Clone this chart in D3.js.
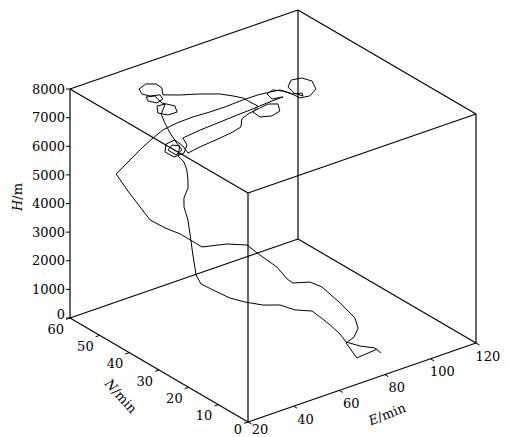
<!DOCTYPE html>
<html>
<head>
<meta charset="utf-8">
<script src="https://cdn.jsdelivr.net/npm/d3@7/dist/d3.min.js"></script>
<style>
  body { margin: 0; background: #fff; }
  text { font-family: "DejaVu Serif", "Liberation Serif", serif; fill: #000; }
</style>
</head>
<body>
<div id="chart"></div>
<script>
// flight track (E/min, N/min, H/m)
var flightE = [
  90.0, 78.8, 80.2, 83.8, 87.8, 89.0, 89.3, 87.8, 85.5, 79.0,
  77.9, 76.7, 72.3, 69.4, 61.7, 50.7, 48.1, 45.4, 41.4, 37.0,
  36.0, 34.0, 33.1, 35.6, 39.6, 43.8, 48.1, 51.9, 56.4, 60.9,
  65.2, 70.4, 75.9, 81.1, 84.4, 88.1, 89.5, 89.9, 93.6, 98.5,
  101.2, 99.8, 95.9, 91.8, 90.6, 91.6, 92.8, 89.6, 88.5, 86.2,
  82.7, 81.7, 85.7, 80.8, 76.1, 70.5, 64.5, 56.5, 47.3, 38.8,
  36.6, 32.0, 27.4, 27.3, 31.3, 35.7, 35.0, 33.1, 39.3, 49.0,
  55.4, 60.0, 64.0, 68.0, 74.1, 78.2, 81.0, 78.2, 73.7, 69.9,
  70.3, 74.5, 74.2, 74.2, 72.4, 69.7, 64.2, 58.3, 53.6, 53.9,
  52.8, 50.0, 45.7, 44.2, 45.5, 50.1, 50.3, 46.8, 45.3, 46.6,
  49.5, 49.5, 51.7, 49.4, 45.5, 43.7, 46.7, 49.9, 44.1, 40.9,
  37.6, 35.0, 32.9, 28.9, 29.0, 32.5, 34.2, 31.7, 34.5, 35.6,
  36.6, 36.9, 36.4, 36.3, 36.6, 36.9, 36.3, 37.2, 38.4, 42.9,
  47.8, 52.8, 59.0, 66.4, 70.9, 77.8, 79.2, 80.9, 82.1, 82.0,
  85.3, 89.8, 89.1
];
var flightN = [
  10.2, 8.5, 13.2, 13.3, 15.0, 17.0, 22.2, 27.2, 29.4, 30.2,
  31.3, 33.8, 36.2, 38.3, 39.1, 39.1, 40.4, 42.4, 44.4, 46.1,
  49.7, 51.5, 54.5, 54.1, 54.2, 53.7, 53.6, 53.2, 51.9, 50.0,
  47.6, 46.5, 44.7, 43.6, 42.1, 41.6, 39.2, 36.2, 35.7, 37.4,
  40.8, 43.2, 43.8, 41.7, 38.7, 36.5, 37.7, 38.6, 40.8, 42.5,
  41.8, 39.3, 38.7, 38.6, 38.4, 38.1, 37.9, 37.5, 37.1, 36.4,
  33.3, 30.8, 30.6, 33.6, 36.3, 36.7, 33.5, 30.3, 31.0, 31.7,
  32.3, 33.1, 35.9, 36.9, 37.6, 38.0, 36.8, 34.0, 33.2, 34.3,
  37.0, 38.5, 41.0, 43.3, 45.3, 47.7, 50.2, 52.3, 54.5, 55.1,
  56.2, 57.5, 56.5, 54.3, 52.6, 52.8, 52.0, 51.3, 53.1, 54.8,
  54.1, 51.7, 49.0, 46.5, 46.6, 48.6, 51.2, 50.9, 47.8, 44.1,
  39.8, 35.8, 32.2, 31.1, 33.9, 35.2, 33.9, 32.6, 32.7, 32.6,
  33.0, 33.2, 34.2, 34.1, 33.0, 32.5, 31.1, 30.7, 30.0, 29.4,
  27.5, 26.2, 24.9, 24.9, 23.3, 22.8, 21.2, 19.1, 16.7, 14.6,
  12.4, 10.9, 8.3
];
var flightH = [
  0, 100, 300, 400, 500, 700, 900, 1200, 1300, 1400,
  1500, 1800, 2200, 2500, 2700, 2900, 3100, 3300, 3500, 3800,
  4200, 4600, 5000, 5200, 5400, 5700, 5900, 6100, 6300, 6500,
  6700, 6800, 7000, 7100, 7200, 7200, 7200, 7200, 7200, 7200,
  7200, 7200, 7200, 7200, 7200, 7200, 7200, 7200, 7200, 7200,
  7200, 7200, 7200, 7200, 7200, 7200, 7200, 7200, 7200, 7200,
  7200, 7200, 7200, 7200, 7200, 7200, 7200, 7200, 7200, 7200,
  7200, 7200, 7200, 7200, 7200, 7200, 7200, 7200, 7200, 7200,
  7200, 7200, 7200, 7200, 7200, 7200, 7200, 7200, 7200, 7400,
  7500, 7500, 7500, 7500, 7500, 7400, 7300, 7300, 7300, 7300,
  7300, 7200, 7200, 7200, 7200, 7200, 7200, 7200, 7200, 7200,
  7200, 7200, 7200, 7200, 7200, 7200, 7200, 7000, 6700, 6400,
  6000, 5700, 5300, 5000, 4600, 4100, 3500, 2800, 2500, 2200,
  1900, 1700, 1500, 1300, 1100, 900, 750, 550, 350, 200,
  100, 0, 0
];

var eTicks = [20, 40, 60, 80, 100, 120];
var nTicks = [0, 10, 20, 30, 40, 50, 60];
var hTicks = [0, 1000, 2000, 3000, 4000, 5000, 6000, 7000, 8000];

var width = 508, height = 437;

// oblique projection: origin corner and screen vectors of the three axes
var origin = [248, 422];
var eVec = [228, -79], nVec = [-178, -104], hVec = [0, -229];

var sE = d3.scaleLinear().domain([20, 120]).range([0, 1]);
var sN = d3.scaleLinear().domain([0, 60]).range([0, 1]);
var sH = d3.scaleLinear().domain([0, 8000]).range([0, 1]);

function proj(e, n, h) {
  var a = sE(e), b = sN(n), c = sH(h);
  return [origin[0] + a * eVec[0] + b * nVec[0] + c * hVec[0],
          origin[1] + a * eVec[1] + b * nVec[1] + c * hVec[1]];
}

var svg = d3.select("#chart").append("svg")
  .attr("width", width)
  .attr("height", height);

svg.append("rect").attr("width", width).attr("height", height).attr("fill", "#fff");

// box edges
var eD = sE.domain(), nD = sN.domain(), hD = sH.domain();
var edges = [];
[0, 1].forEach(function (i) {
  [0, 1].forEach(function (j) {
    edges.push([[eD[0], nD[i], hD[j]], [eD[1], nD[i], hD[j]]]);
    edges.push([[eD[i], nD[0], hD[j]], [eD[i], nD[1], hD[j]]]);
    edges.push([[eD[i], nD[j], hD[0]], [eD[i], nD[j], hD[1]]]);
  });
});

svg.append("g").selectAll("line")
  .data(edges)
  .join("line")
  .attr("x1", function (d) { return proj.apply(null, d[0])[0]; })
  .attr("y1", function (d) { return proj.apply(null, d[0])[1]; })
  .attr("x2", function (d) { return proj.apply(null, d[1])[0]; })
  .attr("y2", function (d) { return proj.apply(null, d[1])[1]; })
  .attr("stroke", "#000")
  .attr("stroke-width", 1.2);

// H axis (left vertical edge: E=20, N=60)
var hAxis = svg.append("g");
hTicks.forEach(function (v) {
  var p = proj(eD[0], nD[1], v);
  hAxis.append("line")
    .attr("x1", p[0] - 4).attr("y1", p[1])
    .attr("x2", p[0]).attr("y2", p[1])
    .attr("stroke", "#000");
  hAxis.append("text")
    .attr("x", p[0] - 5).attr("y", v === 0 ? p[1] - 4 : p[1])
    .attr("dy", "0.36em")
    .attr("text-anchor", "end")
    .attr("font-size", 13)
    .text(v);
});
svg.append("text")
  .attr("transform", "translate(22,197) rotate(-90)")
  .attr("text-anchor", "middle")
  .attr("font-size", 13)
  .html('<tspan font-style="italic">H</tspan>/m');

// N axis (bottom edge at E=20)
var nAxis = svg.append("g");
nTicks.forEach(function (v) {
  var p = proj(eD[0], v, 0);
  nAxis.append("line")
    .attr("x1", p[0]).attr("y1", p[1])
    .attr("x2", p[0] - 4).attr("y2", p[1] + 1.4)
    .attr("stroke", "#000");
  nAxis.append("text")
    .attr("x", p[0] - 6).attr("y", Math.min(p[1] + 11, 429))
    .attr("dy", "0.36em")
    .attr("text-anchor", "end")
    .attr("font-size", 13)
    .text(v);
});
svg.append("text")
  .attr("transform", "translate(121,396) rotate(48)")
  .attr("text-anchor", "middle")
  .attr("dy", "0.36em")
  .attr("font-size", 13)
  .html('<tspan font-style="italic">N</tspan>/min');

// E axis (bottom edge at N=0)
var eAxis = svg.append("g");
eTicks.forEach(function (v) {
  var p = proj(v, nD[0], 0);
  eAxis.append("line")
    .attr("x1", p[0]).attr("y1", p[1])
    .attr("x2", p[0] + 3.5).attr("y2", p[1] + 2)
    .attr("stroke", "#000");
  eAxis.append("text")
    .attr("x", p[0] + 12).attr("y", Math.min(p[1] + 13, 429))
    .attr("dy", "0.36em")
    .attr("text-anchor", "middle")
    .attr("font-size", 13)
    .text(v);
});
svg.append("text")
  .attr("transform", "translate(387,414) rotate(-22)")
  .attr("text-anchor", "middle")
  .attr("dy", "0.36em")
  .attr("font-size", 13)
  .html('<tspan font-style="italic">E</tspan>/min');

// flight track
var track = d3.range(flightE.length).map(function (i) {
  return proj(flightE[i], flightN[i], flightH[i]);
});

svg.append("path")
  .datum(track)
  .attr("fill", "none")
  .attr("stroke", "#000")
  .attr("stroke-width", 1)
  .attr("stroke-linejoin", "round")
  .attr("d", d3.line());
</script>
</body>
</html>
